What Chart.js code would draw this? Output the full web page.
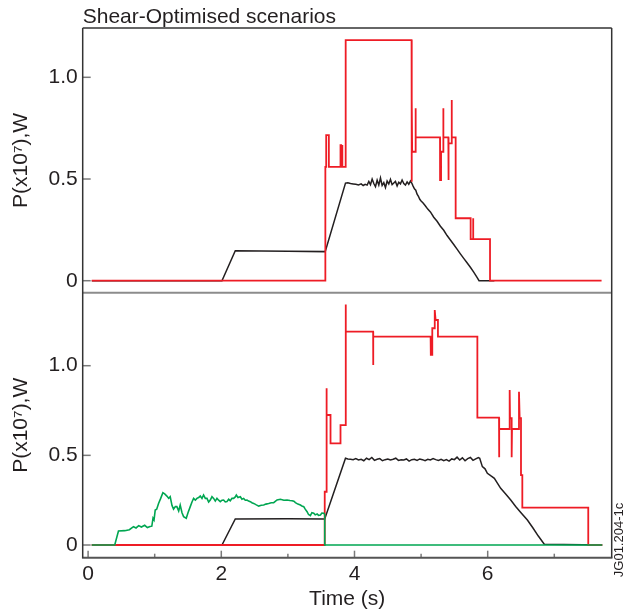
<!DOCTYPE html>
<html><head><meta charset="utf-8">
<script src="https://cdn.jsdelivr.net/npm/chart.js@4/dist/chart.umd.min.js"></script>
<style>html,body{margin:0;padding:0;background:#fff;}#wrap{position:relative;width:623px;height:614px;}</style>
</head><body><div id="wrap"><canvas id="c" width="623" height="614"></canvas></div>
<script>
// ---------- DATA ----------
const titleText = 'Shear-Optimised scenarios';
const yTitle = 'P(x10\u2077),W';
const xTitle = 'Time (s)';
const codeText = 'JG01.204-1c';
const xTickLabels = [0, 2, 4, 6];
const xMinorTicks = [1, 3, 5, 7];
const yTickVals = [0, 0.5, 1.0];

// Top panel: red and black
const topRedT = [0.055,3.56,3.56,3.565,3.575,3.575,3.615,3.615,3.79,3.79,3.80,3.80,3.815,3.815,3.82,3.865,3.865,3.868,3.87,4.857,4.857,4.862,4.866,4.917,4.917,4.92,5.284,5.285,5.30,5.30,5.333,5.333,5.336,5.409,5.41,5.415,5.459,5.459,5.462,5.519,5.519,5.744,5.744,5.78,5.78,5.785,6.035,6.035,7.71];
const topRedP = [0,0,0.42,0.56,0.56,0.716,0.716,0.56,0.56,0.667,0.667,0.56,0.56,0.667,0.56,0.56,1.0,0.85,1.183,1.183,0.487,0.888,0.634,0.634,0.848,0.705,0.705,0.495,0.495,0.634,0.634,0.848,0.705,0.705,0.495,0.675,0.675,0.888,0.705,0.705,0.307,0.307,0.204,0.204,0.307,0.204,0.204,0,0];

const topBlackT = [0.055,2.01,2.21,3.0,3.56,3.865,3.90,3.94,3.98,4.02,4.06,4.10,4.13,4.16,4.19,4.215,4.24,4.265,4.29,4.315,4.34,4.365,4.39,4.415,4.44,4.465,4.49,4.515,4.54,4.565,4.59,4.615,4.64,4.665,4.69,4.715,4.74,4.765,4.79,4.815,4.84,4.86,4.88,4.90,4.92,4.94,4.96,4.98,5.00,5.03,5.06,5.10,5.14,5.19,5.24,5.29,5.34,5.39,5.44,5.49,5.54,5.59,5.64,5.69,5.74,5.79,5.84,5.87,6.10];
const topBlackP = [0,0,0.147,0.145,0.143,0.48,0.482,0.478,0.476,0.474,0.471,0.476,0.468,0.474,0.470,0.488,0.472,0.500,0.478,0.462,0.494,0.470,0.505,0.468,0.482,0.458,0.490,0.476,0.498,0.472,0.480,0.488,0.466,0.484,0.476,0.495,0.478,0.470,0.486,0.474,0.490,0.480,0.465,0.452,0.445,0.425,0.415,0.400,0.392,0.382,0.370,0.352,0.338,0.312,0.292,0.268,0.248,0.222,0.200,0.178,0.155,0.132,0.110,0.088,0.066,0.042,0.016,0,0];

// Bottom panel: red, black, green
const botRedT = [0.055,3.553,3.553,3.578,3.578,3.585,3.64,3.64,3.79,3.79,3.865,3.865,3.87,3.872,4.28,4.28,4.283,5.143,5.146,5.168,5.168,5.203,5.205,5.218,5.253,5.253,5.845,5.845,6.17,6.17,6.175,6.33,6.33,6.335,6.36,6.36,6.365,6.47,6.47,6.48,6.50,6.50,6.52,6.52,7.51,7.51,7.72];
const botRedP = [0,0,0.297,0.297,0.874,0.725,0.725,0.567,0.567,0.669,0.669,1.342,1.0,1.19,1.19,1.004,1.162,1.162,1.06,1.06,1.209,1.209,1.31,1.255,1.255,1.162,1.162,0.71,0.71,0.489,0.647,0.647,0.864,0.707,0.707,0.489,0.647,0.647,0.855,0.707,0.707,0.39,0.39,0.208,0.208,0,0];

const botBlackT = [0.055,2.01,2.21,3.0,3.553,3.865,3.90,3.94,3.98,4.02,4.06,4.10,4.14,4.18,4.22,4.26,4.30,4.34,4.38,4.42,4.46,4.50,4.54,4.58,4.62,4.66,4.70,4.74,4.78,4.82,4.86,4.90,4.94,4.98,5.02,5.06,5.10,5.14,5.18,5.22,5.26,5.30,5.34,5.38,5.42,5.46,5.50,5.54,5.58,5.62,5.66,5.70,5.74,5.78,5.82,5.86,5.88,5.92,5.96,5.995,6.05,6.10,6.195,6.27,6.346,6.42,6.50,6.596,6.68,6.76,6.85,7.72];
const botBlackP = [0,0,0.145,0.147,0.145,0.484,0.480,0.478,0.476,0.482,0.474,0.478,0.470,0.484,0.476,0.488,0.472,0.478,0.482,0.470,0.476,0.480,0.474,0.478,0.484,0.472,0.476,0.474,0.480,0.468,0.476,0.478,0.472,0.480,0.476,0.470,0.478,0.474,0.482,0.476,0.472,0.478,0.470,0.476,0.468,0.480,0.476,0.490,0.474,0.486,0.470,0.482,0.488,0.472,0.480,0.488,0.484,0.437,0.425,0.40,0.385,0.372,0.316,0.285,0.251,0.215,0.180,0.139,0.095,0.050,0.004,0];

const botGreenT = [0.055,0.40,0.456,0.55,0.62,0.682,0.72,0.76,0.80,0.85,0.89,0.93,0.957,0.975,0.99,1.008,1.03,1.058,1.09,1.123,1.15,1.183,1.21,1.233,1.26,1.283,1.31,1.333,1.36,1.383,1.41,1.434,1.474,1.50,1.534,1.56,1.584,1.61,1.634,1.66,1.684,1.71,1.734,1.76,1.785,1.81,1.835,1.86,1.885,1.91,1.935,1.96,1.985,2.01,2.035,2.06,2.085,2.11,2.135,2.16,2.185,2.21,2.226,2.25,2.286,2.31,2.336,2.36,2.386,2.41,2.436,2.46,2.486,2.52,2.561,2.60,2.637,2.67,2.712,2.75,2.787,2.837,2.887,2.94,2.987,3.03,3.063,3.09,3.113,3.15,3.188,3.21,3.238,3.26,3.288,3.31,3.338,3.36,3.388,3.41,3.439,3.46,3.489,3.51,3.539,3.553,3.553,7.72];
const botGreenP = [0,0,0.078,0.080,0.085,0.102,0.095,0.108,0.100,0.110,0.097,0.103,0.105,0.150,0.140,0.195,0.200,0.232,0.260,0.292,0.285,0.273,0.260,0.269,0.220,0.200,0.214,0.214,0.190,0.223,0.180,0.158,0.149,0.180,0.214,0.240,0.260,0.250,0.260,0.265,0.273,0.260,0.279,0.260,0.260,0.240,0.251,0.270,0.260,0.245,0.260,0.250,0.242,0.250,0.251,0.240,0.242,0.255,0.247,0.260,0.260,0.268,0.279,0.265,0.269,0.255,0.260,0.250,0.251,0.245,0.242,0.236,0.232,0.225,0.217,0.222,0.223,0.228,0.232,0.236,0.236,0.251,0.255,0.250,0.251,0.248,0.247,0.244,0.236,0.228,0.223,0.218,0.214,0.200,0.186,0.170,0.164,0.180,0.177,0.168,0.173,0.165,0.167,0.178,0.177,0.170,0,0];

// ---------- STYLE ----------
const RED = '#ee1c25', BLACK = '#231f20', GREEN = '#00a651';
const FONT = "'Liberation Sans', Arial, sans-serif";
const pts = (T, P) => T.map((t, i) => ({x: t, y: P[i]}));
const line = (T, P, color, axis, w) => ({
  data: pts(T, P), yAxisID: axis, borderColor: color, borderWidth: w,
  pointRadius: 0, fill: false, tension: 0, borderJoinStyle: 'miter'
});

const framePlugin = {
  id: 'frame',
  afterDatasetsDraw(chart) {
    const ctx = chart.ctx;
    const ca = chart.chartArea;
    const x = chart.scales.x, yT = chart.scales.yTop, yB = chart.scales.yBot;
    ctx.save();
    ctx.lineCap = 'butt';
    ctx.strokeStyle = '#7a7a7a'; ctx.lineWidth = 1.5;
    [yT, yB].forEach(s => {
      yTickVals.forEach(v => {
        const py = s.getPixelForValue(v);
        ctx.beginPath(); ctx.moveTo(ca.left, py); ctx.lineTo(ca.left + 8, py); ctx.stroke();
      });
    });
    xTickLabels.concat(xMinorTicks).forEach(v => {
      const px = x.getPixelForValue(v);
      const len = xTickLabels.includes(v) ? 7 : 4;
      ctx.beginPath(); ctx.moveTo(px, ca.bottom); ctx.lineTo(px, ca.bottom - len); ctx.stroke();
    });
    ctx.strokeStyle = '#8c8c8c'; ctx.lineWidth = 2;
    ctx.beginPath(); ctx.moveTo(ca.left, yT.bottom); ctx.lineTo(ca.right, yT.bottom); ctx.stroke();
    ctx.strokeStyle = '#555'; ctx.lineWidth = 2;
    ctx.beginPath(); ctx.moveTo(ca.left - 0.75, ca.bottom); ctx.lineTo(ca.right + 0.75, ca.bottom); ctx.stroke();
    ctx.strokeStyle = '#333'; ctx.lineWidth = 1.5;
    ctx.beginPath(); ctx.moveTo(ca.left, ca.top); ctx.lineTo(ca.right, ca.top); ctx.stroke();
    ctx.beginPath(); ctx.moveTo(ca.left, ca.top); ctx.lineTo(ca.left, ca.bottom); ctx.stroke();
    ctx.beginPath(); ctx.moveTo(ca.right, ca.top); ctx.lineTo(ca.right, ca.bottom); ctx.stroke();
    ctx.fillStyle = BLACK; ctx.font = '21px ' + FONT; ctx.textAlign = 'left'; ctx.textBaseline = 'alphabetic';
    ctx.fillText(titleText, ca.left, 22.5);
    ctx.translate(619.5, 540); ctx.rotate(-Math.PI / 2);
    ctx.font = '13px ' + FONT; ctx.textAlign = 'center'; ctx.textBaseline = 'middle';
    ctx.fillText(codeText, 0, 0);
    ctx.restore();
  }
};

const yAxis = (min, max) => ({
  type: 'linear', position: 'left', stack: 'p', stackWeight: 1,
  min: min, max: max,
  grid: {display: false, drawTicks: false}, border: {display: false},
  afterBuildTicks: s => { s.ticks = yTickVals.map(v => ({value: v})); },
  ticks: {font: {family: FONT, size: 21}, color: BLACK, padding: 5,
          callback: v => v === 0 ? '0' : v.toFixed(1)},
  title: {display: true, text: yTitle, font: {family: FONT, size: 21}, color: BLACK, padding: {top: 9, bottom: 0}},
  afterFit: s => { s.width = 82.7; }
});

new Chart(document.getElementById('c'), {
  type: 'line',
  data: {datasets: [
    line(topRedT, topRedP, RED, 'yTop', 1.8),
    line(topBlackT, topBlackP, BLACK, 'yTop', 1.5),
    line(botGreenT, botGreenP, GREEN, 'yBot', 1.6),
    line(botRedT, botRedP, RED, 'yBot', 1.8),
    line(botBlackT, botBlackP, BLACK, 'yBot', 1.5)
  ]},
  options: {
    responsive: false, animation: false, devicePixelRatio: 1,
    layout: {padding: {top: 28, right: 11.3, left: 0, bottom: 0}},
    plugins: {legend: {display: false}, tooltip: {enabled: false}, title: {display: false}},
    scales: {
      x: {
        type: 'linear', position: 'bottom', min: -0.081, max: 7.862,
        grid: {display: false, drawTicks: false}, border: {display: false},
        afterBuildTicks: s => { s.ticks = xTickLabels.map(v => ({value: v})); },
        ticks: {font: {family: FONT, size: 21}, color: BLACK, padding: 4, maxRotation: 0, autoSkip: false},
        title: {display: true, text: xTitle, font: {family: FONT, size: 21}, color: BLACK, padding: {top: 0, bottom: 2}},
        afterFit: s => { s.height = 56.3; }
      },
      yBot: yAxis(-0.0708, 1.4063),
      yTop: yAxis(-0.0597, 1.2424)
    }
  },
  plugins: [framePlugin]
});
</script></body></html>
